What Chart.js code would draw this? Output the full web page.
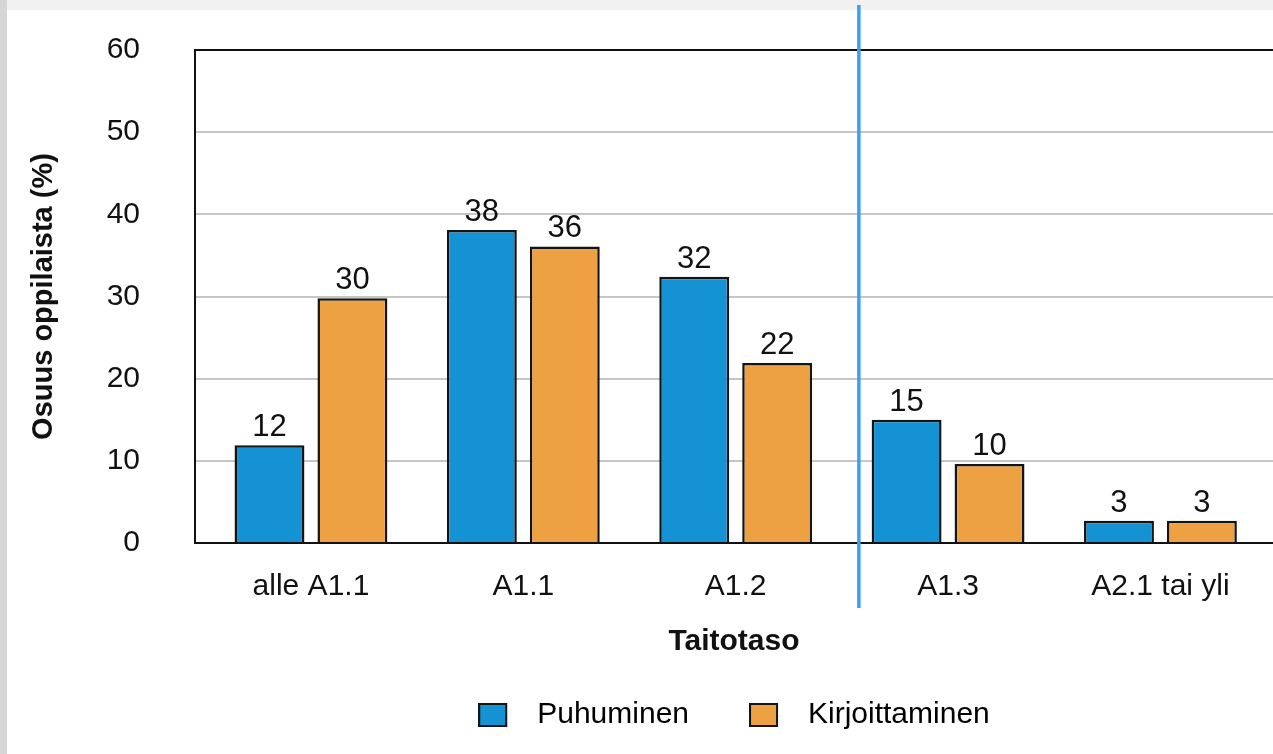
<!DOCTYPE html>
<html><head><meta charset="utf-8">
<script src="https://cdn.jsdelivr.net/npm/chart.js@4"></script>
<style>html,body{margin:0;padding:0;background:#fff;overflow:hidden}#wrap{width:1273px;height:754px}</style>
</head><body><div id="wrap"><canvas id="c" width="1273" height="754"></canvas></div>
<script>
const categories = ['alle A1.1', 'A1.1', 'A1.2', 'A1.3', 'A2.1 tai yli'];
const seriesNames = ['Puhuminen', 'Kirjoittaminen'];
const puhuminen = [11.9, 38.1, 32.4, 15.0, 2.7];
const kirjoittaminen = [29.8, 36.1, 21.9, 9.6, 2.7];
const puhuminenLabels = ['12', '38', '32', '15', '3'];
const kirjoittaminenLabels = ['30', '36', '22', '10', '3'];
const yTicks = [0, 10, 20, 30, 40, 50, 60];
const dividerPosition = 2.58;

const FONT = "'Liberation Sans Narrow', 'Arial Narrow', 'Liberation Sans', Arial, sans-serif";
const BLUE = '#1592d4';
const ORANGE = '#eea142';
const EDGE = '#141414';

function legendSwatch(color) {
  const c = document.createElement('canvas');
  c.width = 44; c.height = 24;
  const g = c.getContext('2d');
  g.fillStyle = EDGE; g.fillRect(0, 0, 29, 24);
  g.fillStyle = color; g.fillRect(2, 2, 25, 20);
  return c;
}
const swatches = [legendSwatch(BLUE), legendSwatch(ORANGE)];

const bgPlugin = {
  id: 'bg',
  beforeDraw(chart) {
    const ctx = chart.ctx;
    ctx.save();
    ctx.fillStyle = '#f1f1f1';
    ctx.fillRect(0, 0, chart.width, chart.height);
    ctx.fillStyle = '#d6d6d6';
    ctx.fillRect(0, 0, 7, chart.height);
    ctx.fillStyle = '#ffffff';
    ctx.fillRect(7, 10, chart.width - 7, chart.height - 10);
    ctx.restore();
  }
};

const labelPlugin = {
  id: 'vals',
  afterDatasetsDraw(chart) {
    const ctx = chart.ctx;
    const labelSets = [puhuminenLabels, kirjoittaminenLabels];
    ctx.save();
    ctx.font = '31px ' + FONT;
    ctx.fillStyle = '#111';
    ctx.textAlign = 'center';
    ctx.textBaseline = 'alphabetic';
    chart.data.datasets.forEach((ds, di) => {
      chart.getDatasetMeta(di).data.forEach((el, i) => {
        ctx.fillText(labelSets[di][i], el.x, el.y - 9);
      });
    });
    ctx.restore();
  }
};

const dividerPlugin = {
  id: 'divider',
  afterDraw(chart) {
    const ctx = chart.ctx;
    const x = chart.scales.x.getPixelForValue(dividerPosition);
    ctx.save();
    ctx.strokeStyle = '#3aa0f0';
    ctx.lineWidth = 3.5;
    ctx.beginPath();
    ctx.moveTo(x, 5);
    ctx.lineTo(x, 608);
    ctx.stroke();
    ctx.restore();
  }
};

Chart.defaults.font.family = FONT;
Chart.defaults.color = '#111';

new Chart(document.getElementById('c'), {
  type: 'bar',
  data: {
    datasets: [
      { label: seriesNames[0], data: puhuminen.map((v, i) => ({ x: i, y: v })), backgroundColor: BLUE, borderColor: EDGE, borderWidth: 2.5 },
      { label: seriesNames[1], data: kirjoittaminen.map((v, i) => ({ x: i, y: v })), backgroundColor: ORANGE, borderColor: EDGE, borderWidth: 2.5 }
    ]
  },
  options: {
    responsive: false,
    animation: false,
    devicePixelRatio: 1,
    categoryPercentage: 0.781,
    barPercentage: 0.843,
    layout: { padding: { top: 50, right: 0, bottom: 14, left: 0 } },
    plugins: {
      tooltip: { enabled: false },
      legend: {
        position: 'bottom',
        fullSize: false,
        labels: {
          usePointStyle: true,
          pointStyleWidth: 44,
          boxHeight: 24,
          padding: 60,
          color: '#111',
          font: { size: 30 },
          generateLabels() {
            return seriesNames.map((n, i) => ({ text: n, pointStyle: swatches[i], fillStyle: i ? ORANGE : BLUE, strokeStyle: EDGE, lineWidth: 0, datasetIndex: i, hidden: false }));
          }
        }
      }
    },
    scales: {
      x: {
        type: 'linear',
        min: -0.546,
        max: 4.53,
        offset: false,
        grid: { display: false },
        border: { display: true, color: '#111', width: 2 },
        ticks: {
          stepSize: 1,
          includeBounds: false,
          autoSkip: false,
          maxRotation: 0,
          padding: 18,
          font: { size: 30 },
          callback: (v) => Number.isInteger(v) ? categories[v] : ''
        },
        title: { display: true, text: 'Taitotaso', font: { size: 30, weight: 'bold' }, padding: { top: 0, bottom: -20 } },
        afterFit(scale) { scale.height = 97; }
      },
      y: {
        min: 0,
        max: 60,
        afterBuildTicks(scale) { scale.ticks = yTicks.map(v => ({ value: v })); },
        grid: {
          drawTicks: false,
          lineWidth: 2,
          color: (c) => (c.tick && c.tick.value === 60) ? '#111' : '#c6c6c6'
        },
        border: { display: true, color: '#111', width: 2 },
        ticks: { padding: 55, font: { size: 30 } },
        title: { display: true, text: 'Osuus oppilaista (%)', font: { size: 29, weight: 'bold' }, padding: { top: 27, bottom: 0 } },
        afterFit(scale) { scale.width = 195; scale.paddingTop = 10; scale.paddingBottom = 10; }
      }
    }
  },
  plugins: [bgPlugin, labelPlugin, dividerPlugin]
});
</script>
</body></html>
